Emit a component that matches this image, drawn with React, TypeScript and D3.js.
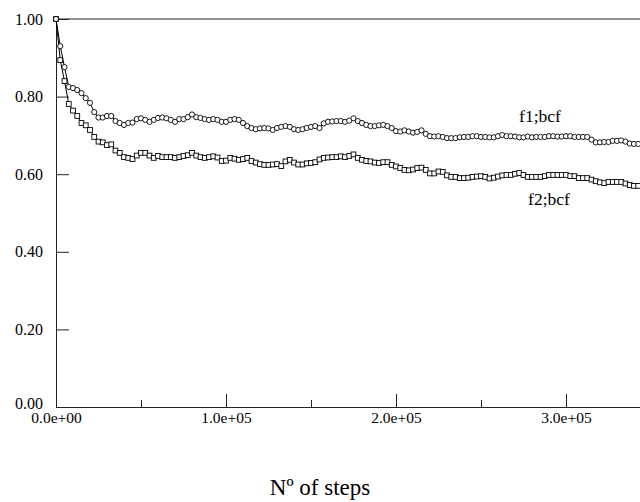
import React, { useEffect, useRef } from 'react';
import * as d3 from 'd3';

// one value every 2500 steps
const STEP = 2500;

const f1 = [
  1.000, 0.930, 0.876, 0.825, 0.822, 0.817, 0.809, 0.796, 0.784, 0.760,
  0.746, 0.746, 0.750, 0.750, 0.737, 0.732, 0.727, 0.732, 0.733, 0.742,
  0.744, 0.740, 0.735, 0.740, 0.745, 0.746, 0.744, 0.740, 0.735, 0.742,
  0.742, 0.747, 0.754, 0.747, 0.745, 0.742, 0.740, 0.742, 0.740, 0.735,
  0.735, 0.740, 0.742, 0.740, 0.732, 0.724, 0.719, 0.716, 0.718, 0.719,
  0.718, 0.714, 0.719, 0.722, 0.724, 0.722, 0.716, 0.714, 0.716, 0.719,
  0.722, 0.724, 0.719, 0.731, 0.735, 0.736, 0.737, 0.737, 0.735, 0.738,
  0.744, 0.737, 0.732, 0.727, 0.724, 0.724, 0.726, 0.727, 0.724, 0.719,
  0.711, 0.710, 0.713, 0.710, 0.707, 0.709, 0.713, 0.704, 0.698, 0.697,
  0.698, 0.696, 0.693, 0.693, 0.693, 0.695, 0.696, 0.696, 0.698, 0.698,
  0.696, 0.696, 0.695, 0.695, 0.698, 0.701, 0.698, 0.698, 0.697, 0.695,
  0.695, 0.697, 0.695, 0.696, 0.696, 0.696, 0.698, 0.698, 0.697, 0.697,
  0.698, 0.698, 0.696, 0.696, 0.696, 0.696, 0.689, 0.682, 0.682, 0.683,
  0.683, 0.686, 0.686, 0.687, 0.684, 0.679, 0.678, 0.678,
];

const f2 = [
  1.000, 0.894, 0.840, 0.781, 0.764, 0.750, 0.732, 0.726, 0.714, 0.696,
  0.684, 0.682, 0.675, 0.677, 0.661, 0.655, 0.644, 0.642, 0.639, 0.648,
  0.655, 0.655, 0.648, 0.642, 0.647, 0.644, 0.644, 0.644, 0.642, 0.644,
  0.647, 0.649, 0.655, 0.648, 0.644, 0.642, 0.644, 0.646, 0.643, 0.634,
  0.635, 0.642, 0.640, 0.637, 0.639, 0.642, 0.634, 0.630, 0.626, 0.624,
  0.624, 0.625, 0.626, 0.621, 0.633, 0.637, 0.630, 0.625, 0.625, 0.628,
  0.629, 0.631, 0.638, 0.642, 0.643, 0.644, 0.644, 0.646, 0.644, 0.647,
  0.651, 0.642, 0.637, 0.634, 0.633, 0.630, 0.629, 0.631, 0.631, 0.624,
  0.620, 0.616, 0.611, 0.610, 0.612, 0.616, 0.617, 0.611, 0.602, 0.602,
  0.607, 0.606, 0.597, 0.593, 0.593, 0.590, 0.590, 0.591, 0.593, 0.594,
  0.595, 0.593, 0.589, 0.591, 0.594, 0.597, 0.598, 0.598, 0.601, 0.603,
  0.598, 0.593, 0.593, 0.593, 0.593, 0.595, 0.598, 0.598, 0.598, 0.598,
  0.598, 0.595, 0.595, 0.590, 0.590, 0.590, 0.586, 0.582, 0.579, 0.577,
  0.580, 0.580, 0.580, 0.580, 0.576, 0.572, 0.570, 0.570,
];

const xTicks = [0, 100000, 200000, 300000];
const xTickLabels = ['0.0e+00', '1.0e+05', '2.0e+05', '3.0e+05'];
const xMinorTicks = [50000, 150000, 250000];
const yTicks = [0, 0.2, 0.4, 0.6, 0.8, 1.0];
const yTickLabels = ['0.00', '0.20', '0.40', '0.60', '0.80', '1.00'];

const FONT = '"Liberation Serif", "Times New Roman", serif';

function StepsChart({ width = 640, height = 502 }) {
  const ref = useRef(null);

  useEffect(() => {
    const svg = d3.select(ref.current);
    svg.selectAll('*').remove();

    const x = d3.scaleLinear().domain([0, 343530]).range([56, 640]);
    const y = d3.scaleLinear().domain([0, 1]).range([407, 19]);

    // x axis, ticks point inward
    const xAxis = svg.append('g')
      .attr('transform', `translate(0, ${y(0)})`)
      .call(d3.axisBottom(x).tickValues(xTicks)
        .tickFormat((d, i) => xTickLabels[i])
        .tickSizeInner(-13).tickSizeOuter(0).tickPadding(5));

    svg.append('g')
      .attr('transform', `translate(0, ${y(0)})`)
      .call(d3.axisBottom(x).tickValues(xMinorTicks).tickFormat(() => '')
        .tickSizeInner(-7).tickSizeOuter(0))
      .select('.domain').remove();

    const yAxis = svg.append('g')
      .attr('transform', `translate(${x(0)}, 0)`)
      .call(d3.axisLeft(y).tickValues(yTicks)
        .tickFormat((d, i) => yTickLabels[i])
        .tickSizeInner(-13).tickSizeOuter(0).tickPadding(13));

    xAxis.selectAll('text').style('font-family', FONT).style('font-size', '15.5px').attr('fill', '#000');
    yAxis.selectAll('text').style('font-family', FONT).style('font-size', '16px').attr('fill', '#000');
    // the 0.00 label sits a little above its tick, just over 0.0e+00
    yAxis.selectAll('.tick text').filter(d => d === 0).attr('dy', '0.1em');
    svg.selectAll('.domain, .tick line').attr('stroke', '#222').attr('stroke-width', 1);

    // top frame line
    svg.append('line')
      .attr('x1', x(0)).attr('x2', 640)
      .attr('y1', y(1)).attr('y2', y(1))
      .attr('stroke', '#222');

    const line = d3.line()
      .x((d, i) => x(i * STEP))
      .y(d => y(d));

    // f2 with squares
    svg.append('path').datum(f2)
      .attr('d', line).attr('fill', 'none')
      .attr('stroke', '#000').attr('stroke-width', 1);
    svg.append('g').selectAll('rect')
      .data(f2).enter().append('rect')
      .attr('x', (d, i) => x(i * STEP) - 2.4)
      .attr('y', d => y(d) - 2.4)
      .attr('width', 4.8).attr('height', 4.8)
      .attr('fill', '#fff').attr('stroke', '#000').attr('stroke-width', 0.9);

    // f1 with circles
    svg.append('path').datum(f1)
      .attr('d', line).attr('fill', 'none')
      .attr('stroke', '#000').attr('stroke-width', 1);
    svg.append('g').selectAll('circle')
      .data(f1).enter().append('circle')
      .attr('cx', (d, i) => x(i * STEP))
      .attr('cy', d => y(d))
      .attr('r', 2.6)
      .attr('fill', '#fff').attr('stroke', '#000').attr('stroke-width', 0.9);

    svg.append('text')
      .attr('x', 540).attr('y', 122)
      .attr('text-anchor', 'middle')
      .style('font-family', FONT).style('font-size', '17.5px')
      .text('f1;bcf');

    svg.append('text')
      .attr('x', 549).attr('y', 205)
      .attr('text-anchor', 'middle')
      .style('font-family', FONT).style('font-size', '17.5px')
      .text('f2;bcf');

    svg.append('text')
      .attr('x', 320).attr('y', 495)
      .attr('text-anchor', 'middle')
      .style('font-family', FONT).style('font-size', '23px')
      .text('Nº of steps');
  }, []);

  return (
    <svg ref={ref} width={width} height={height}
      style={{ position: 'absolute', left: 0, top: 0, background: '#fff' }}></svg>
  );
}

export default function App() {
  return <StepsChart />;
}
